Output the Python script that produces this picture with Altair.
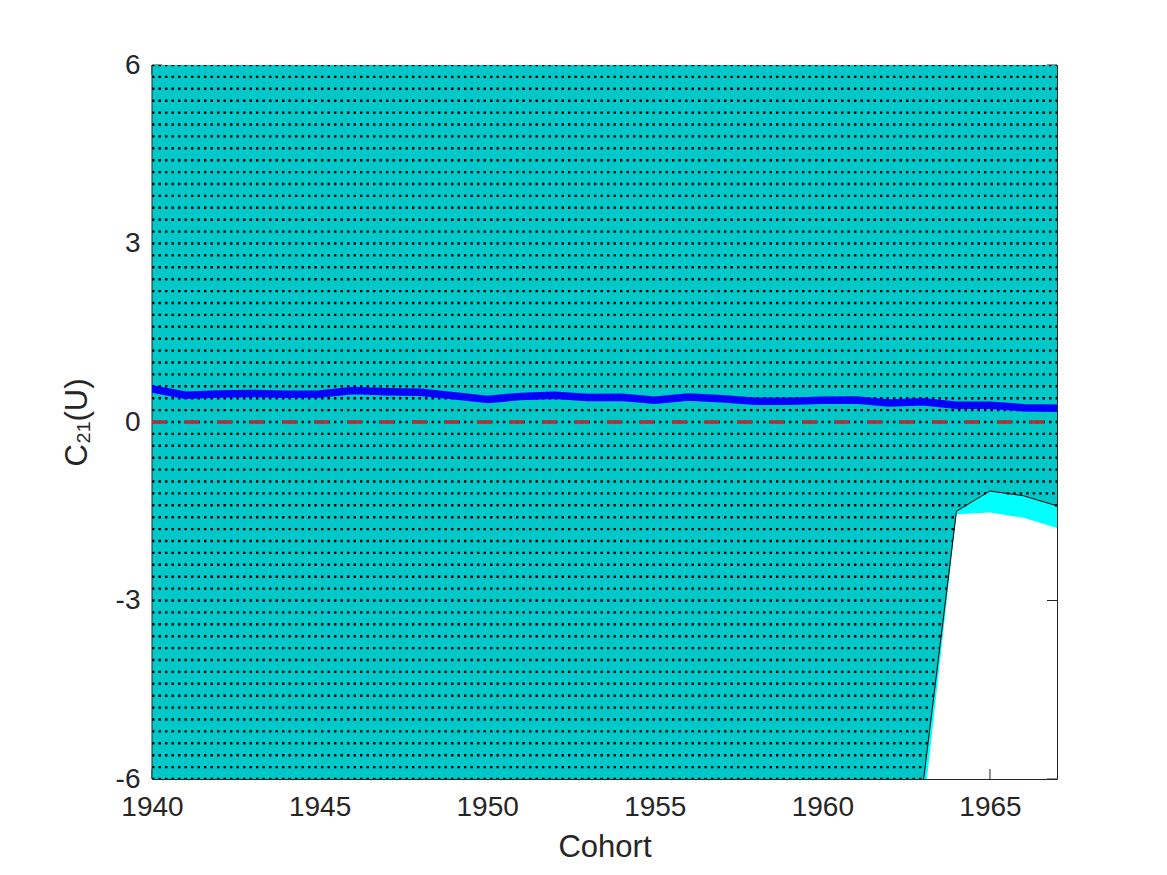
import altair as alt
import pandas as pd

# ---- data ----
years = list(range(1940, 1968))
estimate = [0.555, 0.45, 0.47, 0.48, 0.465, 0.47, 0.53, 0.51, 0.50, 0.44,
            0.38, 0.43, 0.45, 0.41, 0.415, 0.365, 0.42, 0.39, 0.35, 0.35,
            0.365, 0.37, 0.32, 0.34, 0.28, 0.28, 0.24, 0.23]
# lower bound of the hatched (teal) set; values before 1963 lie far below the axis
teal_lower = [-15] * 23 + [-6.1, -1.5, -1.16, -1.24, -1.41]
# lower bound of the wider cyan set
cyan_lower = [-15] * 23 + [-6.6, -1.55, -1.52, -1.61, -1.78]
# upper bounds of both sets lie above the plotted range
set_upper = [15] * len(years)
zero_line = [0.0] * len(years)

x_ticks = [1940, 1945, 1950, 1955, 1960, 1965]
y_ticks = [-6, -3, 0, 3, 6]
hatch_levels = [round(-6 + 0.2 * k, 1) for k in range(61)]

W, H = 905, 714
TEAL = "#00c8c8"
CYAN = "#00ffff"
AX = "#262626"

band = pd.DataFrame({"x": years, "teal_lo": teal_lower, "cyan_lo": cyan_lower,
                     "up": set_upper, "est": estimate, "zero": zero_line})


def covered(xs, lows, h):
    """x-intervals where the set {y > lower(x)} contains level h."""
    out = []
    for i in range(len(xs) - 1):
        x0, x1, v0, v1 = xs[i], xs[i + 1], lows[i], lows[i + 1]
        if v0 < h and v1 < h:
            seg = (x0, x1)
        elif v0 >= h and v1 >= h:
            continue
        else:
            xc = x0 + (h - v0) / (v1 - v0) * (x1 - x0)
            seg = (x0, xc) if v0 < h else (xc, x1)
        if out and abs(out[-1][1] - seg[0]) < 1e-9:
            out[-1] = (out[-1][0], seg[1])
        else:
            out.append(seg)
    return out


rows = []
for h in hatch_levels:
    for a, b in covered(years, teal_lower, h):
        rows.append({"x": a, "x2": b, "y": h})
hatch = pd.DataFrame(rows)

xs = alt.Scale(domain=[1940, 1967], nice=False, zero=False)
ys = alt.Scale(domain=[-6, 6], nice=False, zero=False)

x_axis = alt.Axis(values=x_ticks, title="Cohort", labelFlush=False,
                  labelExpr="datum.value + ''",
                  labelOverlap=False, labelPadding=14, titlePadding=11)
y_axis = alt.Axis(values=y_ticks, title="C₂₁(U)", labelPadding=12,
                  labelExpr="datum.value + ''",
                  titlePadding=22, labelFlush=False, labelOverlap=False)

tx = pd.DataFrame({"x": x_ticks})
ty = pd.DataFrame({"y": y_ticks})

tick_b = alt.Chart(tx).mark_rule(color=AX, strokeWidth=1).encode(
    x=alt.X("x:Q", scale=xs, axis=x_axis), y=alt.value(H), y2=alt.value(H - 10))
tick_t = alt.Chart(tx).mark_rule(color=AX, strokeWidth=1).encode(
    x=alt.X("x:Q", scale=xs), y=alt.value(0), y2=alt.value(10))
tick_l = alt.Chart(ty).mark_rule(color=AX, strokeWidth=1).encode(
    y=alt.Y("y:Q", scale=ys, axis=y_axis), x=alt.value(0), x2=alt.value(10))
tick_r = alt.Chart(ty).mark_rule(color=AX, strokeWidth=1).encode(
    y=alt.Y("y:Q", scale=ys), x=alt.value(W), x2=alt.value(W - 10))

cyan_area = alt.Chart(band).mark_area(color=CYAN, clip=True).encode(
    x=alt.X("x:Q", scale=xs), y=alt.Y("cyan_lo:Q", scale=ys), y2="up:Q")
teal_area = alt.Chart(band).mark_area(color=TEAL, clip=True).encode(
    x=alt.X("x:Q", scale=xs), y=alt.Y("teal_lo:Q", scale=ys), y2="up:Q")

hatch_layer = alt.Chart(hatch).mark_rule(
    color="black", strokeWidth=2.4, strokeDash=[2.4, 4.1], clip=True
).encode(x=alt.X("x:Q", scale=xs), x2="x2:Q", y=alt.Y("y:Q", scale=ys))

outline = alt.Chart(band).mark_line(color="black", strokeWidth=1, clip=True).encode(
    x=alt.X("x:Q", scale=xs), y=alt.Y("teal_lo:Q", scale=ys))
left_edge = alt.Chart(band.head(1)).mark_rule(color=AX, strokeWidth=1).encode(
    x=alt.X("x:Q", scale=xs), y=alt.value(0), y2=alt.value(H))

zero_layer = alt.Chart(band).mark_line(
    color="#b02e34", strokeWidth=3.5, strokeDash=[15, 17.5], clip=True
).encode(x=alt.X("x:Q", scale=xs), y=alt.Y("zero:Q", scale=ys))

est_layer = alt.Chart(band).mark_line(
    color="#0000ff", strokeWidth=7.5, strokeJoin="round", strokeCap="butt", clip=True
).encode(x=alt.X("x:Q", scale=xs), y=alt.Y("est:Q", scale=ys))

chart = alt.layer(
    tick_b, tick_t, tick_l, tick_r,
    cyan_area, teal_area, hatch_layer, outline, left_edge,
    zero_layer, est_layer,
).properties(
    width=W, height=H, autosize="none",
    padding={"left": 144, "top": 57, "right": 100, "bottom": 90},
).configure_view(
    stroke=AX, strokeWidth=1
).configure_axis(
    domain=False, ticks=False, grid=False,
    labelFont="Liberation Sans", labelFontSize=28, labelColor=AX,
    titleFont="Liberation Sans", titleFontSize=31, titleFontWeight="normal",
    titleColor=AX,
)

chart.save("out.html", embed_options={"renderer": "svg", "actions": False})
